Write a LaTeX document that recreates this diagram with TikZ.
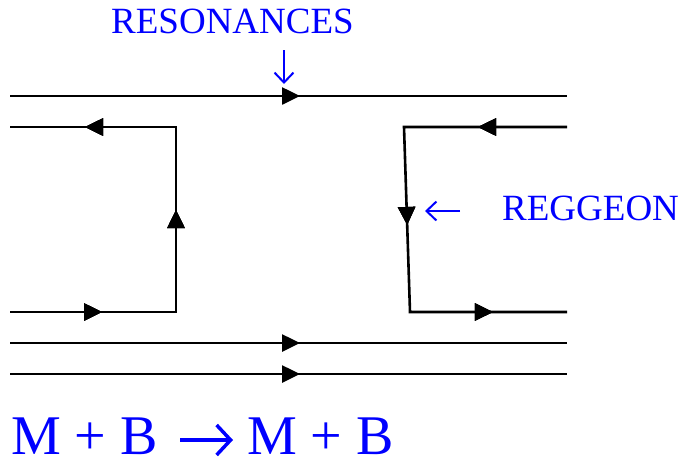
\documentclass[tikz,border=0pt]{standalone}
\usepackage{fontspec}
\setmainfont{Liberation Serif}
\usetikzlibrary{arrows.meta,decorations.markings}
\definecolor{lblue}{RGB}{0,0,255}
\tikzset{
  quark/.style={line width=2.6pt,line join=miter,black},
  arr/.style={postaction={decorate},decoration={markings,mark=at position #1 with {\arrow{Triangle[length=18pt,width=17pt]}}}},
  lbl/.style={text=lblue,inner sep=0pt,font=\fontsize{37}{40}\selectfont},
  big/.style={text=lblue,inner sep=0pt,font=\fontsize{56}{60}\selectfont},
  thinarrow/.style={draw=lblue,line width=2pt,-{Straight Barb[length=10pt,width=19pt,line width=2pt]}},
  bigarrow/.style={draw=lblue,line width=3.5pt,-{Straight Barb[length=14pt,width=30pt,line width=3.5pt]}}
}
\begin{document}
\begin{tikzpicture}[x=1pt,y=-1pt]
\useasboundingbox (0,0) rectangle (687,459);
% end points
\coordinate (t1) at (10,96);   \coordinate (t2) at (567,96);
\coordinate (l1) at (10,312);  \coordinate (l2) at (176,312);
\coordinate (l3) at (176,127); \coordinate (l4) at (10,127);
\coordinate (r1) at (567,127); \coordinate (r2) at (404,127);
\coordinate (r3) at (410,312); \coordinate (r4) at (567,312);
\coordinate (b1) at (10,343);  \coordinate (b2) at (567,343);
\coordinate (c1) at (10,374);  \coordinate (c2) at (567,374);
% lines
\draw[quark,arr=290pt] (t1) -- (t2);
\draw[quark,arr=92pt,arr=268pt,arr=442pt] (l1) -- (l2) -- (l3) -- (l4);
\draw[quark,arr=89pt,arr=261pt,arr=431pt] (r1) -- (r2) -- (r3) -- (r4);
\draw[quark,arr=290pt] (b1) -- (b2);
\draw[quark,arr=290pt] (c1) -- (c2);
% labels
\node[lbl,anchor=base west] (res) at (111,33) {RESONANCES};
\coordinate (ra1) at (284,50); \coordinate (ra2) at (284,84);
\draw[thinarrow] (ra1) -- (ra2);
\coordinate (ga1) at (460,211); \coordinate (ga2) at (425,211);
\draw[thinarrow] (ga1) -- (ga2);
\node[lbl,anchor=base west] (reg) at (502,220) {REGGEON};
\node[big,anchor=base west] (eqa) at (11,454) {M + B};
\node[big,anchor=base west] (eqb) at (247,454) {M + B};
\coordinate (ea1) at (180,440); \coordinate (ea2) at (233,440);
\draw[bigarrow] (ea1) -- (ea2);
\end{tikzpicture}
\end{document}
